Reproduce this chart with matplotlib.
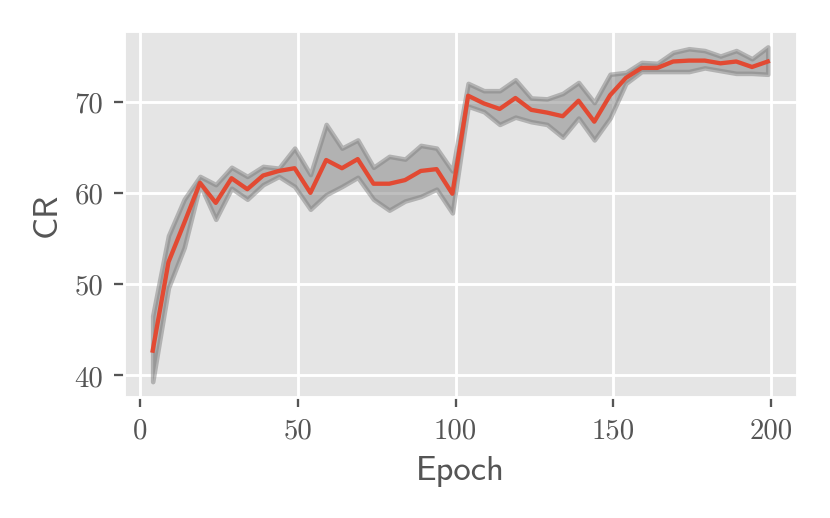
import numpy as np
import matplotlib
matplotlib.use("Agg")
import matplotlib.pyplot as plt

plt.style.use("ggplot")

# evaluation every 5 epochs
epochs = np.arange(4, 200, 5)

cr_mean = [42.7, 52.4, 56.7, 61.1, 58.9, 61.6, 60.4, 61.9, 62.4, 62.7,
           60.0, 63.6, 62.7, 63.7, 61.0, 61.0, 61.4, 62.4, 62.6, 59.9,
           70.65, 69.8, 69.2, 70.4, 69.1, 68.8, 68.4, 70.1, 67.8, 70.7,
           72.6, 73.7, 73.7, 74.4, 74.5, 74.5, 74.2, 74.4, 73.8, 74.4]

cr_high = [46.5, 55.3, 59.3, 61.8, 60.9, 62.8, 61.8, 62.9, 62.7, 64.9,
           62.0, 67.5, 64.9, 65.8, 62.8, 64.0, 63.7, 65.2, 64.9, 62.4,
           72.0, 71.2, 71.2, 72.4, 70.4, 70.3, 70.9, 72.1, 69.9, 73.0,
           73.2, 74.3, 74.2, 75.4, 75.8, 75.6, 75.0, 75.6, 74.7, 76.0]

cr_low = [39.3, 49.6, 54.0, 60.9, 57.1, 60.5, 59.3, 60.9, 61.8, 60.7,
          58.2, 59.8, 60.7, 61.7, 59.3, 58.1, 59.1, 59.6, 60.4, 57.8,
          69.5, 68.9, 67.5, 68.3, 67.8, 67.5, 66.1, 68.2, 65.8, 68.2,
          72.0, 73.3, 73.3, 73.3, 73.3, 73.7, 73.4, 73.1, 73.1, 73.0]

fig, ax = plt.subplots(figsize=(4, 2.5), dpi=207.5)
fig.subplots_adjust(left=0.149, right=0.960, top=0.938, bottom=0.233)

ax.fill_between(epochs, cr_low, cr_high, color="gray", alpha=0.5, lw=1.6)
ax.plot(epochs, cr_mean, color="#E24A33", lw=1.5, zorder=3)

ax.set_xlim(-5.2, 208.2)
ax.set_ylim(37.6, 77.7)
ax.set_xticks([0, 50, 100, 150, 200])
ax.set_yticks([40, 50, 60, 70])
ax.grid(True, color="white", lw=1.0)
for lab in ax.get_xticklabels() + ax.get_yticklabels():
    lab.set_fontfamily("cmr10")
    lab.set_fontsize(10)

ax.set_xlabel("Epoch", fontfamily="cmss10", fontsize=12, color="#555555")
ax.set_ylabel("CR", fontfamily="cmss10", fontsize=12, color="#555555")

fig.savefig("out.png", dpi=207.5)
